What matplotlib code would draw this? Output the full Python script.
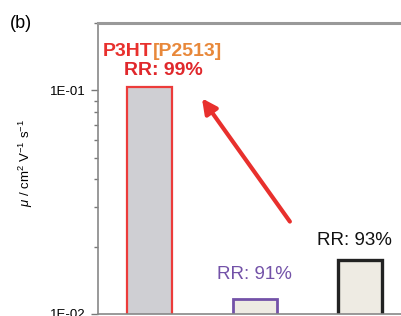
import matplotlib
matplotlib.use("Agg")
import matplotlib.pyplot as plt
import numpy as np

plt.rcParams['font.family'] = ['Liberation Sans', 'DejaVu Sans']
plt.rcParams['mathtext.fontset'] = 'custom'
plt.rcParams['mathtext.rm'] = 'Liberation Sans'
plt.rcParams['mathtext.it'] = 'Liberation Sans:italic'

# data
mobility = [0.103, 0.0117, 0.0174]          # cm2/Vs
rr_labels = ["RR: 99%", "RR: 91%", "RR: 93%"]
fills = ["#cfcfd3", "#eeebe3", "#eeebe3"]
edges = ["#ec3b3a", "#7352a8", "#222222"]
edge_w = [1.6, 2.0, 2.4]
label_colors = ["#e0282c", "#7352a8", "#111111"]

red = "#e8302d"
orange = "#e8883a"

fig = plt.figure(figsize=(4.01, 3.16), dpi=100)
ax = fig.add_axes([98/401, 2/316, 315/401, 291/316])

x = np.arange(len(mobility))
ax.bar(x, mobility, width=0.42, color=fills, edgecolor=edges, linewidth=edge_w, zorder=2)

ax.set_yscale('log')
ax.set_ylim(0.01, 0.2)
ax.set_xlim(-0.488, 2.5)
ax.set_xticks([])
ax.set_yticks([0.01, 0.1])
ax.set_yticklabels(["1E-02", "1E-01"], fontsize=9.5)
ax.tick_params(axis='y', which='major', length=5, width=1, color='#777777', pad=4)
ax.tick_params(axis='y', which='minor', length=3, width=1, color='#777777')
ax.yaxis.set_minor_formatter(plt.NullFormatter())

for s in ['left', 'bottom']:
    ax.spines[s].set_color('#888888')
    ax.spines[s].set_linewidth(1.2)
ax.spines['top'].set_color('#999999')
ax.spines['top'].set_linewidth(2.2)
ax.spines['right'].set_visible(False)

ax.set_ylabel(r'$\mu$ / cm$^2$ V$^{-1}$ s$^{-1}$', fontsize=9.5)
ax.yaxis.set_label_coords(-0.2, 0.52)

# labels above bars
ax.annotate(rr_labels[0], xy=(x[0] + 0.13, mobility[0]), xytext=(0, 6), textcoords='offset points',
            ha='center', va='bottom', fontsize=14, fontweight='bold', color=label_colors[0])
ax.annotate(rr_labels[1], xy=(x[1], mobility[1]), xytext=(0, 11), textcoords='offset points',
            ha='center', va='bottom', fontsize=13.5, color=label_colors[1])
ax.annotate(rr_labels[2], xy=(x[2] - 0.06, mobility[2]), xytext=(0, 8), textcoords='offset points',
            ha='center', va='bottom', fontsize=13.5, color=label_colors[2])

# title over the first bar, two colours
t1 = ax.text(0.016, 0.887, "P3HT", transform=ax.transAxes, fontsize=14,
             fontweight='bold', color=red, va='baseline', ha='left')
fig.canvas.draw()
bb = t1.get_window_extent()
x_end = ax.transAxes.inverted().transform((bb.x1, bb.y0))[0]
ax.text(x_end, 0.887, "[P2513]", transform=ax.transAxes, fontsize=14,
        fontweight='bold', color=orange, va='baseline', ha='left')

# arrow
ax.annotate("", xy=(0.498, 0.0921), xytext=(1.332, 0.0259),
            arrowprops=dict(arrowstyle='-|>', lw=3, color=red, mutation_scale=22,
                            shrinkA=0, shrinkB=0))

fig.text(10/401, 1 - 28/316, "(b)", fontsize=13, va='baseline', ha='left')

fig.savefig("out.png", dpi=100)
